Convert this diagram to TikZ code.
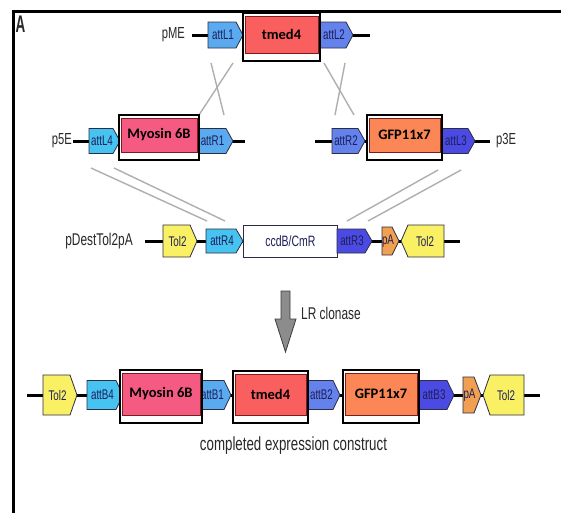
\documentclass[tikz,border=0pt]{standalone}
\usepackage{fontspec}
\setmainfont{Liberation Sans}
\newfontfamily\narrow[FakeStretch=0.7]{Liberation Sans}
\newfontfamily\genefont{Carlito}
\usetikzlibrary{calc}

\definecolor{attblue}{RGB}{90,170,240}
\definecolor{attmid}{RGB}{100,130,235}
\definecolor{attcyan}{RGB}{70,195,240}
\definecolor{attdark}{RGB}{75,75,228}
\definecolor{tolyellow}{RGB}{250,240,100}
\definecolor{paorange}{RGB}{240,160,80}
\definecolor{tmedred}{RGB}{250,95,95}
\definecolor{myopink}{RGB}{245,90,130}
\definecolor{gfporange}{RGB}{250,135,85}
\definecolor{segedge}{RGB}{45,45,65}
\definecolor{labelink}{RGB}{30,30,90}
\definecolor{textgray}{RGB}{40,40,40}
\definecolor{crossgray}{RGB}{175,175,175}
\definecolor{arrowgray}{RGB}{140,140,140}
\definecolor{arrowedge}{RGB}{60,60,60}
\definecolor{innerline}{RGB}{120,30,30}

% right-pointing element: name, left x, tip x, centre y, half height, fill, label
\newcommand{\segR}[7]{%
  \draw[segline, fill=#6] ({#2},{#4-#5}) -- ({#3-7},{#4-#5}) -- ({#3},{#4})
    -- ({#3-7},{#4+#5}) -- ({#2},{#4+#5}) -- cycle;
  \node[seglabel] (#1) at ({(#2+#3-5)/2},{#4}) {#7};}
% left-pointing element: name, tip x, right x, centre y, half height, fill, label
\newcommand{\segL}[7]{%
  \draw[segline, fill=#6] ({#2},{#4}) -- ({#2+7},{#4-#5}) -- ({#3},{#4-#5})
    -- ({#3},{#4+#5}) -- ({#2+7},{#4+#5}) -- cycle;
  \node[seglabel] (#1) at ({(#2+#3+5)/2},{#4}) {#7};}
% framed gene insert: name, left, right, top, bottom, fill, label
\newcommand{\gene}[7]{%
  \draw[line width=2.4pt, fill=white] ({#2},{#4}) rectangle ({#3},{#5});
  \draw[draw=innerline, line width=0.8pt, fill=#6] ({#2+2},{#4+3}) rectangle ({#3-2},{#5-8});
  \node[genelabel] (#1) at ({(#2+#3)/2},{(#4+#5-5)/2}) {#7};}

\begin{document}
\begin{tikzpicture}[x=1pt,y=-1pt,
  segline/.style={draw=segedge, line width=0.8pt},
  seglabel/.style={font=\narrow\fontsize{14}{14}\selectfont, text=labelink, inner sep=0pt},
  genelabel/.style={font=\genefont\bfseries\fontsize{14.5}{14.5}\selectfont, text=black, inner sep=0pt},
  plasmid/.style={font=\narrow\fontsize{16}{16}\selectfont, text=textgray, inner sep=0pt},
  backbone/.style={line width=3pt, black},
  recomb/.style={draw=crossgray, line width=1.4pt}]
\useasboundingbox (0,0) rectangle (561,512);
\fill[white] (0,0) rectangle (561,512);

% panel frame and letter
\draw[line width=3pt, line join=miter] (13.5,520) -- (13.5,11) -- (570,11);
\node[font=\narrow\bfseries\fontsize{24}{24}\selectfont, xscale=0.8, text=textgray, inner sep=0pt] (panel) at (20.5,24) {A};

% recombination cross-overs
\coordinate (xa1) at (211,63);  \coordinate (xa2) at (224,115);
\coordinate (xb1) at (233,63);  \coordinate (xb2) at (199,115);
\coordinate (xc1) at (324,63);  \coordinate (xc2) at (354,115);
\coordinate (xd1) at (345,63);  \coordinate (xd2) at (335,115);
\coordinate (xe1) at (91,168);  \coordinate (xe2) at (207,221);
\coordinate (xf1) at (114,168); \coordinate (xf2) at (225,221);
\coordinate (xg1) at (438,170); \coordinate (xg2) at (347,221);
\coordinate (xh1) at (461,170); \coordinate (xh2) at (368,221);
\draw[recomb] (xa1) -- (xa2);
\draw[recomb] (xb1) -- (xb2);
\draw[recomb] (xc1) -- (xc2);
\draw[recomb] (xd1) -- (xd2);
\draw[recomb] (xe1) -- (xe2);
\draw[recomb] (xf1) -- (xf2);
\draw[recomb] (xg1) -- (xg2);
\draw[recomb] (xh1) -- (xh2);

% pME middle entry clone
\coordinate (pmeL) at (192,35); \coordinate (pmeR) at (370,35);
\draw[backbone] (pmeL) -- (pmeR);
\segR{attL1}{208}{243}{35}{13}{attblue}{attL1}
\segR{attL2}{320}{353}{35}{13}{attmid}{attL2}
\gene{tmedA}{243}{320}{13}{61}{tmedred}{tmed4}
\node[plasmid, anchor=east] (pME) at (185,35) {pME};

% p5E entry clone
\coordinate (p5L) at (73,141); \coordinate (p5R) at (245,141);
\draw[backbone] (p5L) -- (p5R);
\segR{attL4}{89}{120}{141}{12.5}{attcyan}{attL4}
\segR{attR1}{197}{233}{141}{12.5}{attblue}{attR1}
\gene{myoA}{119}{199}{115}{160}{myopink}{Myosin 6B}
\node[plasmid, anchor=east] (p5E) at (72,141) {p5E};

% p3E entry clone
\coordinate (p3L) at (315,141); \coordinate (p3R) at (490,141);
\draw[backbone] (p3L) -- (p3R);
\segR{attR2}{332}{365}{141}{12.5}{attmid}{attR2}
\segR{attL3}{442}{475}{141}{12.5}{attdark}{attL3}
\gene{gfpA}{367}{442}{115}{160}{gfporange}{GFP11x7}
\node[plasmid, anchor=west] (p3E) at (496,141) {p3E};

% destination vector
\coordinate (dstL) at (145,241); \coordinate (dstR) at (460,241);
\draw[backbone] (dstL) -- (dstR);
\segR{tolA}{163}{197}{241}{16}{tolyellow}{Tol2}
\segR{attR4}{206}{243}{241}{12}{attcyan}{attR4}
\node[draw=segedge, line width=0.8pt, fill=white, minimum width=94pt, minimum height=32pt,
      inner sep=0pt, anchor=west, font=\narrow\fontsize{15}{15}\selectfont, text=labelink] (ccdb) at (243,241) {ccdB/CmR};
\segR{attR3}{337}{372}{241}{12}{attdark}{attR3}
\segR{pAa}{382}{399}{241}{14}{paorange}{pA}
\segL{tolB}{401}{444}{241}{16}{tolyellow}{Tol2}
\node[plasmid, anchor=east, font=\narrow\fontsize{17}{17}\selectfont] (pdest) at (133,241) {pDestTol2pA};

% LR reaction
\draw[fill=arrowgray, draw=arrowedge, line width=0.8pt]
  (281,291) -- (290,291) -- (290,319) -- (296,319) -- (285.5,352) -- (275,319) -- (281,319) -- cycle;
\node[plasmid, anchor=west, font=\narrow\fontsize{17}{17}\selectfont] (lr) at (301,313) {LR clonase};

% recombined expression construct
\coordinate (expL) at (27,395); \coordinate (expR) at (540,395);
\draw[backbone] (expL) -- (expR);
\segR{tolC}{43}{77}{395}{20}{tolyellow}{Tol2}
\segR{attB4}{87}{123}{395}{14.5}{attcyan}{attB4}
\segR{attB1}{199}{231}{395}{14.5}{attblue}{attB1}
\segR{attB2}{308}{340}{395}{14.5}{attmid}{attB2}
\segR{attB3}{419}{454}{395}{14.5}{attdark}{attB3}
\segR{pAb}{463}{481}{395}{18}{paorange}{pA}
\segL{tolD}{483}{524}{395}{20}{tolyellow}{Tol2}
\gene{myoB}{120}{202}{370}{423}{myopink}{Myosin 6B}
\gene{tmedB}{233}{308}{371}{423}{tmedred}{tmed4}
\gene{gfpB}{343}{419}{370}{423}{gfporange}{GFP11x7}
\node[plasmid, font=\narrow\fontsize{19}{19}\selectfont] (done) at (293.5,446) {completed expression construct};
\end{tikzpicture}
\end{document}
